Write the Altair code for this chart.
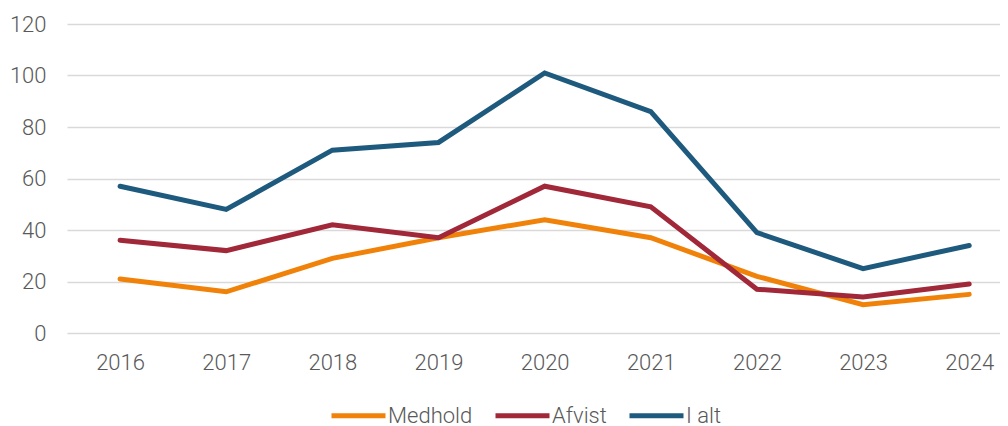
import altair as alt
import pandas as pd

years = [2016, 2017, 2018, 2019, 2020, 2021, 2022, 2023, 2024]
medhold = [21, 16, 29, 37, 44, 37, 22, 11, 15]
afvist = [36, 32, 42, 37, 57, 49, 17, 14, 19]
i_alt = [57, 48, 71, 74, 101, 86, 39, 25, 34]

series_names = ["Medhold", "Afvist", "I alt"]
series_colors = ["#F0820A", "#A02838", "#1E5A7D"]

rows = []
for name, vals in zip(series_names, [medhold, afvist, i_alt]):
    for i, (y, v) in enumerate(zip(years, vals)):
        rows.append({"year": y, "value": v, "series": name, "order": series_names.index(name)})
df = pd.DataFrame(rows)

FONT = "Roboto"
GRAY = "#595959"

chart = alt.Chart(df).mark_line(strokeWidth=5, strokeCap="round").encode(
    x=alt.X("year:Q",
            scale=alt.Scale(domain=[2015.5, 2024.29], nice=False, zero=False),
            axis=alt.Axis(values=years, format="d", title=None, grid=False,
                          domain=False, ticks=False, labelPadding=19,
                          labelFontSize=22, labelFont=FONT, labelFontWeight=300,
                          labelColor=GRAY)),
    y=alt.Y("value:Q",
            scale=alt.Scale(domain=[0, 120], nice=False),
            axis=alt.Axis(values=[0, 20, 40, 60, 80, 100, 120], title=None,
                          domain=False, ticks=False, labelPadding=21,
                          labelFontSize=22, labelFont=FONT, labelFontWeight=300,
                          labelColor=GRAY, gridColor="#D9D9D9", gridWidth=1.5)),
    color=alt.Color("series:N",
                    scale=alt.Scale(domain=series_names, range=series_colors),
                    sort=series_names,
                    legend=alt.Legend(title=None, orient="none", direction="horizontal",
                                      legendX=262, legendY=362,
                                      symbolType="stroke", symbolStrokeWidth=5,
                                      symbolSize=2916, labelFontSize=22,
                                      labelFont=FONT, labelFontWeight=300,
                                      labelColor=GRAY, labelOffset=0,
                                      columnPadding=12)),
    order=alt.Order("order:Q"),
    detail="series:N",
).properties(
    width=933,
    height=309,
    padding={"left": 59, "top": 16, "right": 0, "bottom": 96},
    autosize=alt.AutoSizeParams(type="none"),
).configure_view(stroke=None)

chart.save("out.html", embed_options={"renderer": "svg", "actions": False})
